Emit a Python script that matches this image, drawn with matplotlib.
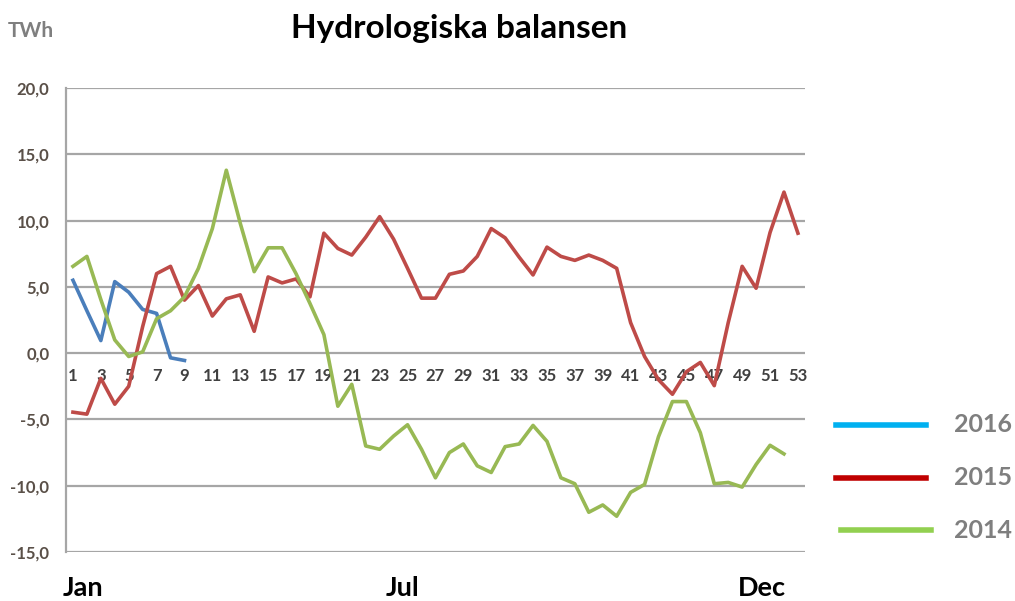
import matplotlib.pyplot as plt
from matplotlib.lines import Line2D
import numpy as np

# Veckovärden, hydrologisk balans (TWh)
weeks = np.arange(1, 54)

v2016 = [5.5, 3.2, 0.95, 5.4, 4.6, 3.3, 3.0, -0.35, -0.55]

v2015 = [-4.45, -4.6, -1.9, -3.85, -2.5, 2.0, 6.0, 6.55, 4.0, 5.1,
         2.8, 4.1, 4.4, 1.65, 5.75, 5.3, 5.6, 4.25, 9.05, 7.9,
         7.4, 8.75, 10.3, 8.6, 6.4, 4.15, 4.15, 5.95, 6.2, 7.3,
         9.4, 8.7, 7.25, 5.9, 8.0, 7.3, 7.0, 7.4, 7.0, 6.4,
         2.3, -0.25, -2.0, -3.1, -1.4, -0.7, -2.45, 2.3, 6.55, 4.9,
         9.1, 12.15, 9.05]

v2014 = [6.55, 7.3, 4.05, 1.0, -0.25, 0.1, 2.6, 3.2, 4.25, 6.4,
         9.4, 13.8, 9.8, 6.15, 7.95, 7.95, 6.0, 3.75, 1.4, -4.0,
         -2.35, -7.0, -7.25, -6.25, -5.4, -7.25, -9.4, -7.5, -6.85, -8.5,
         -9.0, -7.05, -6.85, -5.45, -6.65, -9.4, -9.85, -12.0, -11.45, -12.3,
         -10.5, -9.9, -6.3, -3.65, -3.65, -6.0, -9.85, -9.75, -10.1, -8.4,
         -6.95, -7.6]

years = ['2016', '2015', '2014']
line_colors = ['#4a7ebb', '#be4b48', '#98b954']
legend_colors = ['#00b0f0', '#c00000', '#92d050']

yticks = np.arange(-15, 21, 5)
ytick_labels = ['%.1f' % t for t in yticks]
ytick_labels = [s.replace('.', ',') for s in ytick_labels]
week_ticks = np.arange(1, 54, 2)

plt.rcParams['font.family'] = ['Lato', 'DejaVu Sans']

fig = plt.figure(figsize=(10.15, 6.01), dpi=100)
ax = fig.add_axes([0.065, 0.0815, 0.728, 0.772])

for vals, c in zip([v2016, v2015, v2014], line_colors):
    ax.plot(weeks[:len(vals)], vals, color=c, linewidth=2.6, solid_joinstyle='round', zorder=3)

ax.set_xlim(0.5, 53.5)
ax.set_ylim(-15, 20)
ax.set_yticks(yticks)
ax.set_yticklabels(ytick_labels, fontsize=12, fontweight='bold', color='#5a5048')
ax.grid(axis='y', color='#a6a6a6', linewidth=1.6, zorder=1)
ax.set_axisbelow(True)

# veckonummer vid nollinjen
ax.spines['bottom'].set_position(('data', 0))
ax.spines['bottom'].set_visible(False)
ax.set_xticks(week_ticks)
ax.set_xticklabels([str(w) for w in week_ticks], fontsize=12, fontweight='bold', color='#404040')
ax.tick_params(axis='x', length=0, pad=11)
ax.tick_params(axis='y', length=0, pad=12)

ax.spines['top'].set_visible(False)
ax.spines['right'].set_visible(False)
ax.spines['left'].set_color('#a6a6a6')
ax.spines['left'].set_linewidth(1.6)

fig.text(0.452, 0.952, 'Hydrologiska balansen', ha='center', va='center',
         fontsize=24, fontweight='bold', color='black')
fig.text(0.008, 0.948, 'TWh', ha='left', va='center', fontsize=15,
         fontweight='bold', color='#7f7f7f')

for lbl, xpos in zip(['Jan', 'Jul', 'Dec'], [0.062, 0.38, 0.727]):
    fig.text(xpos, 0.022, lbl, ha='left', va='center', fontsize=19.5, fontweight='bold')

# legend
for i, (yr, c) in enumerate(zip(years, legend_colors)):
    y = 1 - (425 + i * 52.5) / 601
    x0 = 0.824 + (0.005 if i == 2 else 0)
    fig.add_artist(Line2D([x0, x0 + 0.088], [y, y], color=c, linewidth=4))
    fig.text(0.94, y, yr, ha='left', va='center', fontsize=18,
             fontweight='bold', color='#7f7f7f')

plt.savefig('out.png', dpi=100)
